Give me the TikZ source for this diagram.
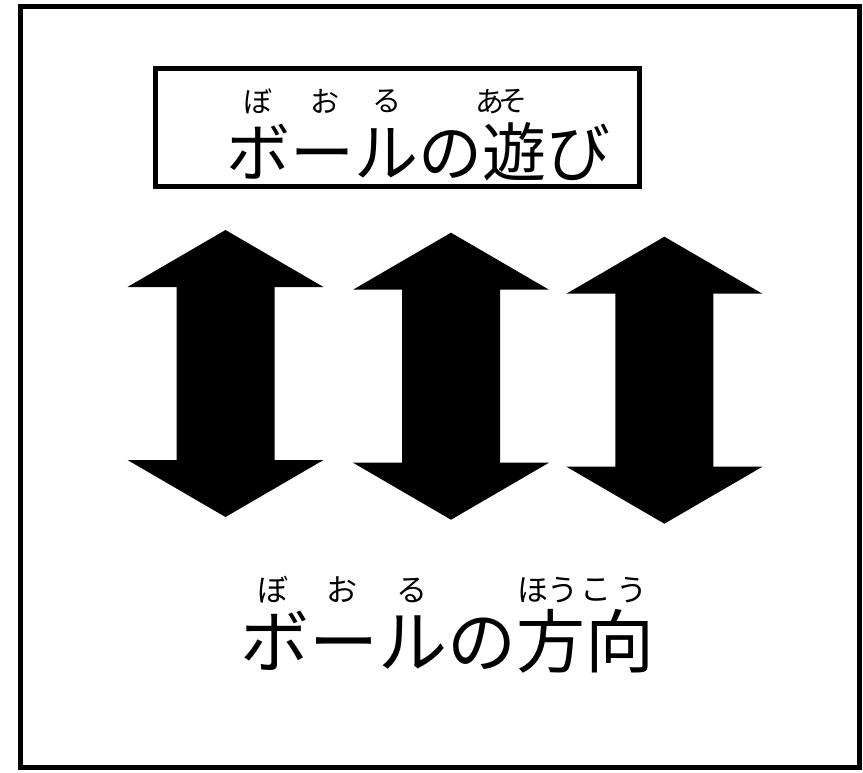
\documentclass[tikz,border=0pt]{standalone}
\usepackage{fontspec}
\newfontfamily\jp{Noto Sans CJK JP}
\begin{document}
\begin{tikzpicture}[x=1pt,y=-1pt,
  frame/.style={draw=black,line width=5pt},
  bigtext/.style={inner sep=0pt,font=\jp\fontsize{64}{64}\selectfont},
  bigtextb/.style={inner sep=0pt,font=\jp\fontsize{69}{69}\selectfont},
  rubytop/.style={inner sep=0pt,font=\jp\fontsize{29}{29}\selectfont},
  rubybot/.style={inner sep=0pt,font=\jp\fontsize{31}{31}\selectfont},
  dblarrow/.pic={
    \fill[black] (0,0) -- (98,57) -- (49,57) -- (49,230) -- (98,230) -- (0,287)
      -- (-98,230) -- (-49,230) -- (-49,57) -- (-98,57) -- cycle;
  }]
\useasboundingbox (0,0) rectangle (863,772);
\fill[white] (0,0) rectangle (863,772);
% outer frame
\draw[frame] (20,6) rectangle (859.5,767);
% title box
\draw[frame] (155,68.5) rectangle (639,186);
\node[bigtext] (title) at (418.3,151.5) {ボールの遊び};
\node[rubytop] (t1) at (257.5,101.5) {ぼ};
\node[rubytop] (t2) at (325,101.5) {お};
\node[rubytop] (t3) at (386.5,101.5) {る};
\node[rubytop] (t4) at (490,101.5) {あ};
\node[rubytop] (t5) at (513,101.5) {そ};
% arrows
\pic at (225.5,230) {dblarrow};
\pic at (451,232.7) {dblarrow};
\pic at (664.4,236.7) {dblarrow};
% bottom caption
\node[bigtextb] (caption) at (447.8,641.5) {ボールの方向};
\node[rubybot] (b1) at (273,590) {ぼ};
\node[rubybot] (b2) at (341.5,590) {お};
\node[rubybot] (b3) at (411.5,590) {る};
\node[rubybot] (b4) at (532.5,590) {ほ};
\node[rubybot] (b5) at (562.5,590) {う};
\node[rubybot] (b6) at (596,590) {こ};
\node[rubybot] (b7) at (632,590) {う};
\end{tikzpicture}
\end{document}
